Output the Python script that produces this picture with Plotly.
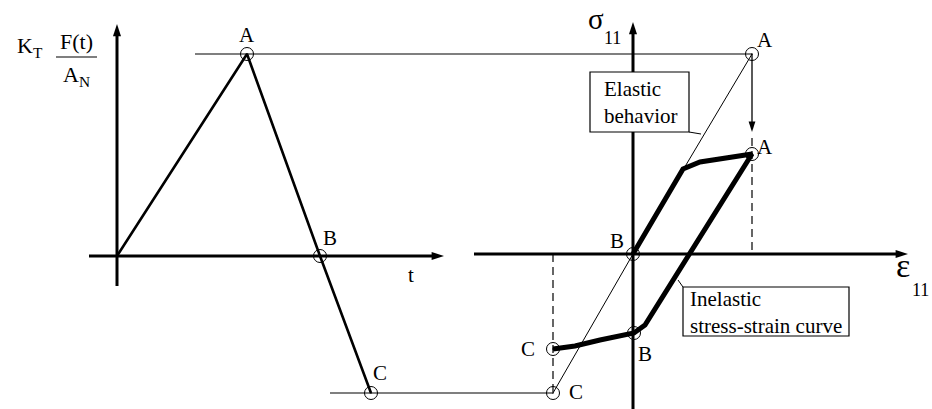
import plotly.graph_objects as go

# drawing units: x from the left edge, y from the top edge of the sketch
# left panel: load history K_T F(t)/A_N, points 0, A, B, C
load_x = [117, 247, 320, 371]
load_y = [256, 54, 256, 393]
load_names = ["", "A", "B", "C"]

# right panel: elastic response C - B - A
elastic_x = [553, 633, 752]
elastic_y = [393, 254, 54]
elastic_names = ["C", "B", "A"]

# right panel: inelastic stress-strain curve, from origin up to A, down to B and C
inelastic_x = [633, 683, 700, 725, 752, 645, 634, 600, 575, 553]
inelastic_y = [254, 169, 162, 158, 154, 325, 333, 340, 346, 349]
inelastic_pts_x = [752, 634, 553]
inelastic_pts_y = [154, 333, 349]
inelastic_names = ["A", "B", "C"]

FONT = "Liberation Serif, Times New Roman, serif"
BLACK = "black"

fig = go.Figure()


def line(xs, ys, width=1.0, dash="solid"):
    fig.add_trace(go.Scatter(x=xs, y=ys, mode="lines", hoverinfo="skip",
                             line=dict(color=BLACK, width=width, dash=dash)))


def head(x, y, angle, size=13):
    # arrowhead marker at the tip of an axis / arrow
    fig.add_trace(go.Scatter(x=[x], y=[y], mode="markers", hoverinfo="skip",
                             marker=dict(symbol="arrow", angle=angle, size=size,
                                         color=BLACK, line=dict(width=0))))


def label(x, y, text, size=21, align="center"):
    fig.add_annotation(x=x, y=y, text=text, showarrow=False, align=align,
                       font=dict(family=FONT, size=size, color=BLACK))


# left panel axes
line([load_x[0], load_x[0]], [286, 30], width=3)
head(load_x[0], 24, 0)
line([89, 438], [load_y[0], load_y[0]], width=3)
head(444, load_y[0], 90)

# connector lines between the panels
line([195, elastic_x[2]], [load_y[1], elastic_y[2]], width=1.2)
line([330, elastic_x[0]], [load_y[3], elastic_y[0]], width=1.2)

# load history
line(load_x, load_y, width=2.6)

# right panel axes
line([elastic_x[1], elastic_x[1]], [409, 28], width=3)
head(elastic_x[1], 22, 0)
line([474, 902], [elastic_y[1], elastic_y[1]], width=3)
head(908, elastic_y[1], 90)

# elastic line and guides
line(elastic_x, elastic_y, width=1)
line([elastic_x[2], elastic_x[2]], [elastic_y[2], 128], width=1.3)
head(elastic_x[2], 132, 180, size=11)
line([elastic_x[2], elastic_x[2]], [138, elastic_y[1]], width=1.2, dash="8px,5px")
line([elastic_x[0], elastic_x[0]], [elastic_y[1], elastic_y[0]], width=1.2, dash="8px,5px")

# inelastic curve
line(inelastic_x, inelastic_y, width=5)

# point markers
for xs, ys in [(load_x[1:], load_y[1:]), (elastic_x, elastic_y),
               (inelastic_pts_x, inelastic_pts_y)]:
    fig.add_trace(go.Scatter(x=xs, y=ys, mode="markers", hoverinfo="skip",
                             marker=dict(symbol="circle-open-dot", size=13,
                                         color=BLACK, line=dict(width=1))))

# point labels
label(load_x[1], 35, load_names[1])
label(load_x[2] + 10, 238, load_names[2])
label(load_x[3] + 9, 373, load_names[3])
label(elastic_x[0] + 23, 392, elastic_names[0])
label(elastic_x[1] - 16, 241, elastic_names[1])
label(elastic_x[2] + 13, 40, elastic_names[2])
label(inelastic_pts_x[0] + 13, 147, inelastic_names[0])
label(inelastic_pts_x[1] + 11, 354, inelastic_names[1])
label(inelastic_pts_x[2] - 25, 349, inelastic_names[2])
label(411, 275, "t")

# axis titles
label(30, 47, "K<sub>T</sub>", size=22)
label(76, 41, "F(t)", size=22)
label(76, 76, "A<sub>N</sub>", size=22)
fig.add_shape(type="line", x0=56, x1=97, y0=57, y1=57,
              line=dict(color=BLACK, width=1.2))
label(596, 19, "σ", size=29)
label(612, 38, "11", size=18)
label(903, 265, "ε", size=34)
label(920, 290, "11", size=18)

# callout boxes
fig.add_shape(type="line", x0=689, y0=132, x1=701, y1=134,
              line=dict(color=BLACK, width=1))
fig.add_shape(type="rect", x0=590, y0=72, x1=689, y1=132, layer="above",
              fillcolor="white", line=dict(color=BLACK, width=1.2))
label(640, 102, "Elastic<br>behavior", align="left")
fig.add_shape(type="line", x0=683, y0=287, x1=678, y1=280,
              line=dict(color=BLACK, width=1))
fig.add_shape(type="rect", x0=683, y0=287, x1=849, y1=336, layer="above",
              fillcolor="white", line=dict(color=BLACK, width=1.2))
label(766, 312, "Inelastic<br>stress-strain curve", align="left")

fig.update_xaxes(range=[0, 932], visible=False)
fig.update_yaxes(range=[409, 0], visible=False)
fig.update_layout(width=932, height=409, margin=dict(l=0, r=0, t=0, b=0),
                  showlegend=False, plot_bgcolor="white", paper_bgcolor="white")

fig.write_html("out.html", config={"displayModeBar": False},
               post_script="document.body.style.margin='0px';")
